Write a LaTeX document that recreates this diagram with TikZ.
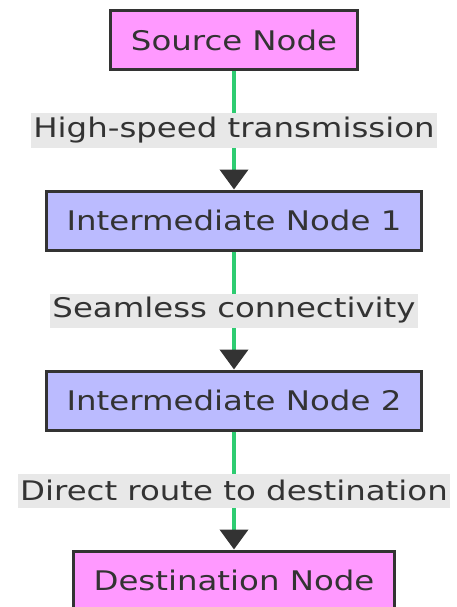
\documentclass[tikz,border=0pt]{standalone}
\usepackage{fontspec}
\setmainfont[FakeStretch=1.2]{DejaVu Sans}
\usepackage{xcolor}
\usetikzlibrary{positioning,arrows.meta}
\definecolor{endpink}{HTML}{FF99FF}
\definecolor{midblue}{HTML}{BBBBFF}
\definecolor{linkgreen}{HTML}{2ECC71}
\definecolor{inkgray}{HTML}{333333}
\definecolor{labelgray}{HTML}{E8E8E8}

\begin{document}
\begin{tikzpicture}[
  netbox/.style={draw=inkgray, line width=3pt, minimum height=59pt,
               inner xsep=20pt, text=inkgray, font=\fontsize{27}{31}\selectfont},
  arr/.style={draw=linkgreen, line width=4pt,
              -{Triangle[width=28pt, length=20pt, color=inkgray]}},
  linklabel/.style={fill=labelgray, text=inkgray, inner xsep=2pt,
                    minimum height=34pt, font=\fontsize{27}{31}\selectfont},
  node distance=118pt
]
  \useasboundingbox (0,0) rectangle (456pt,-607pt);

  \node[netbox, fill=endpink] (src) at (234pt,-40.5pt) {Source Node};

  \node[netbox, fill=midblue, below=of src] (hop1) {Intermediate Node 1};

  \node[netbox, fill=midblue, below=of hop1] (hop2) {Intermediate Node 2};

  \node[netbox, fill=endpink, below=of hop2] (dst) {Destination Node};

  \draw[arr] (src) -- node[linklabel] {High-speed transmission} (hop1);
  \draw[arr] (hop1) -- node[linklabel] {Seamless connectivity} (hop2);
  \draw[arr] (hop2) -- node[linklabel] {Direct route to destination} (dst);
\end{tikzpicture}
\end{document}
